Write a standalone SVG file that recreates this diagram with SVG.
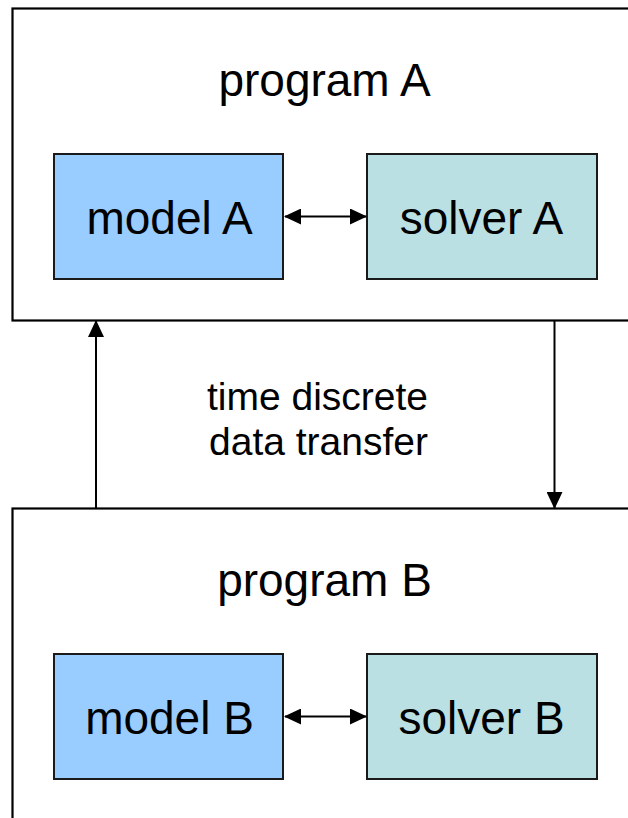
<svg xmlns="http://www.w3.org/2000/svg" width="628" height="818" viewBox="0 0 628 818">
  <style>
    .frame { fill: #ffffff; stroke: #000000; stroke-width: 2.2; }
    .model { fill: #99ccff; stroke: #1a1a1a; stroke-width: 2; }
    .solver { fill: #bbe0e3; stroke: #1a1a1a; stroke-width: 2; }
    .big { font-family: "Liberation Sans", Arial, sans-serif; font-size: 46px; fill: #000000; text-anchor: middle; }
    .mid { font-family: "Liberation Sans", Arial, sans-serif; font-size: 39px; fill: #000000; text-anchor: middle; }
    .link { fill: none; stroke: #000000; stroke-width: 2; }
  </style>
  <defs>
    <marker id="head" markerUnits="userSpaceOnUse" markerWidth="17" markerHeight="16" refX="16" refY="8" orient="auto-start-reverse">
      <path d="M0,0 L17,8 L0,16 Z" fill="#000000"/>
    </marker>
  </defs>
  <rect width="628" height="818" fill="#ffffff"/>

  <g id="programA">
    <rect class="frame" x="12.5" y="8.5" width="640" height="312"/>
    <text class="big" x="324.5" y="96">program A</text>
  </g>
  <g id="modelA">
    <rect class="model" x="54" y="154" width="229" height="125"/>
    <text class="big" x="169.5" y="234">model A</text>
  </g>
  <g id="solverA">
    <rect class="solver" x="367" y="154" width="230" height="125"/>
    <text class="big" x="481.5" y="234">solver A</text>
  </g>

  <g id="programB">
    <rect class="frame" x="12.5" y="508.5" width="640" height="340"/>
    <text class="big" x="324.5" y="596">program B</text>
  </g>
  <g id="modelB">
    <rect class="model" x="54" y="654" width="229" height="125"/>
    <text class="big" x="169.5" y="734">model B</text>
  </g>
  <g id="solverB">
    <rect class="solver" x="367" y="654" width="230" height="125"/>
    <text class="big" x="481.5" y="734">solver B</text>
  </g>

  <g id="transfer-label">
    <text class="mid" x="317.5" y="410">time discrete</text>
    <text class="mid" x="318.5" y="455">data transfer</text>
  </g>

  <g id="connectors">
    <line class="link" x1="285" y1="216.5" x2="366" y2="216.5" marker-start="url(#head)" marker-end="url(#head)"/>
    <line class="link" x1="285" y1="716.5" x2="366" y2="716.5" marker-start="url(#head)" marker-end="url(#head)"/>
    <line class="link" x1="554.5" y1="321" x2="554.5" y2="508" marker-end="url(#head)"/>
    <line class="link" x1="96" y1="508" x2="96" y2="321" marker-end="url(#head)"/>
  </g>
</svg>
